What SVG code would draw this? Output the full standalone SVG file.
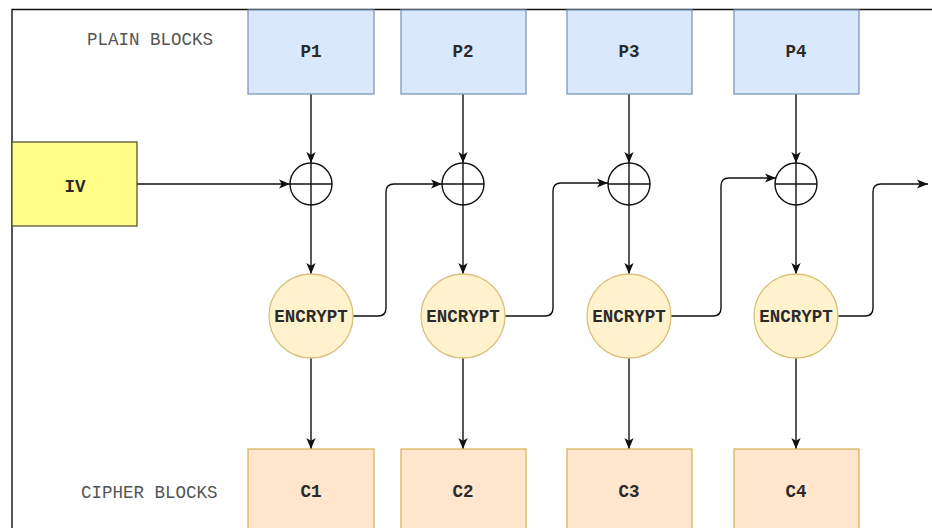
<svg xmlns="http://www.w3.org/2000/svg" width="932" height="528" viewBox="0 0 932 528">
<defs>
<marker id="arr" viewBox="0 0 10 10" refX="10" refY="5" markerWidth="11" markerHeight="11" markerUnits="userSpaceOnUse" orient="auto">
<path d="M0,0.8 L10,5 L0,9.2 L2.5,5 Z" fill="#111"/>
</marker>
<style>
.lbl{font-family:"Liberation Mono","Courier New",monospace;font-size:17.5px;text-anchor:middle;fill:#2a2a2a;font-weight:bold}
.cap{font-family:"Liberation Mono","Courier New",monospace;font-size:17.5px;fill:#555}
.pb{fill:#dae8fc;stroke:#7d97bd;stroke-width:1.3}
.cb{fill:#ffe6cc;stroke:#d9b45c;stroke-width:1.3}
.enc{fill:#fff2cc;stroke:#d9bf7a;stroke-width:1.3}
.xor{fill:#fff;stroke:#111;stroke-width:1.4}
.ln{fill:none;stroke:#111;stroke-width:1.4}
.con{fill:none;stroke:#111;stroke-width:1.4;marker-end:url(#arr)}
</style>
</defs>
<rect width="932" height="528" fill="#fff"/>
<g id="frame">
<path class="ln" d="M12,528 L12,9.5 L932,9.5" stroke-width="1.6"/>
</g>
<text class="cap" x="87" y="45">PLAIN BLOCKS</text>
<text class="cap" x="81" y="498">CIPHER BLOCKS</text>
<g id="connectors">
<path class="con" d="M137,184 L290,184"/>
<path class="con" d="M311,94 L311,163"/>
<path class="con" d="M463,94 L463,163"/>
<path class="con" d="M629,94 L629,163"/>
<path class="con" d="M796,94 L796,163"/>
<path class="con" d="M311,205 L311,274"/>
<path class="con" d="M463,205 L463,274"/>
<path class="con" d="M629,205 L629,274"/>
<path class="con" d="M796,205 L796,274"/>
<path class="con" d="M311,358 L311,449"/>
<path class="con" d="M463,358 L463,449"/>
<path class="con" d="M629,358 L629,449"/>
<path class="con" d="M796,358 L796,449"/>
<path class="con" d="M353,316 L378,316 Q386,316 386,308 L386,192 Q386,184 394,184 L442,184"/>
<path class="con" d="M505,316 L545,316 Q553,316 553,308 L553,191 Q553,183 561,183 L608,183"/>
<path class="con" d="M671,316 L713,316 Q721,316 721,308 L721,186 Q721,178 729,178 L776,178"/>
<path class="con" d="M838,316 L865,316 Q873,316 873,308 L873,192 Q873,184 881,184 L928,184"/>
</g>
<g id="IV"><rect x="12" y="142" width="125" height="84" fill="#ffff88" stroke="#55553a" stroke-width="1.3"/><text class="lbl" x="75" y="192">IV</text></g>
<g id="P1"><rect class="pb" x="248" y="10" width="126" height="84"/><text class="lbl" x="311" y="57">P1</text></g>
<g id="P2"><rect class="pb" x="401" y="10" width="125" height="84"/><text class="lbl" x="463" y="57">P2</text></g>
<g id="P3"><rect class="pb" x="567" y="10" width="125" height="84"/><text class="lbl" x="629" y="57">P3</text></g>
<g id="P4"><rect class="pb" x="734" y="10" width="125" height="84"/><text class="lbl" x="796" y="57">P4</text></g>
<g id="X1"><circle class="xor" cx="311" cy="184" r="21"/><path class="ln" d="M290,184 H332 M311,163 V205"/></g>
<g id="X2"><circle class="xor" cx="463" cy="184" r="21"/><path class="ln" d="M442,184 H484 M463,163 V205"/></g>
<g id="X3"><circle class="xor" cx="629" cy="184" r="21"/><path class="ln" d="M608,184 H650 M629,163 V205"/></g>
<g id="X4"><circle class="xor" cx="796" cy="184" r="21"/><path class="ln" d="M775,184 H817 M796,163 V205"/></g>
<g id="E1"><circle class="enc" cx="311" cy="316" r="42"/><text class="lbl" x="311" y="322">ENCRYPT</text></g>
<g id="E2"><circle class="enc" cx="463" cy="316" r="42"/><text class="lbl" x="463" y="322">ENCRYPT</text></g>
<g id="E3"><circle class="enc" cx="629" cy="316" r="42"/><text class="lbl" x="629" y="322">ENCRYPT</text></g>
<g id="E4"><circle class="enc" cx="796" cy="316" r="42"/><text class="lbl" x="796" y="322">ENCRYPT</text></g>
<g id="C1"><rect class="cb" x="248" y="449" width="126" height="84"/><text class="lbl" x="311" y="497">C1</text></g>
<g id="C2"><rect class="cb" x="401" y="449" width="125" height="84"/><text class="lbl" x="463" y="497">C2</text></g>
<g id="C3"><rect class="cb" x="567" y="449" width="125" height="84"/><text class="lbl" x="629" y="497">C3</text></g>
<g id="C4"><rect class="cb" x="734" y="449" width="125" height="84"/><text class="lbl" x="796" y="497">C4</text></g>
</svg>
